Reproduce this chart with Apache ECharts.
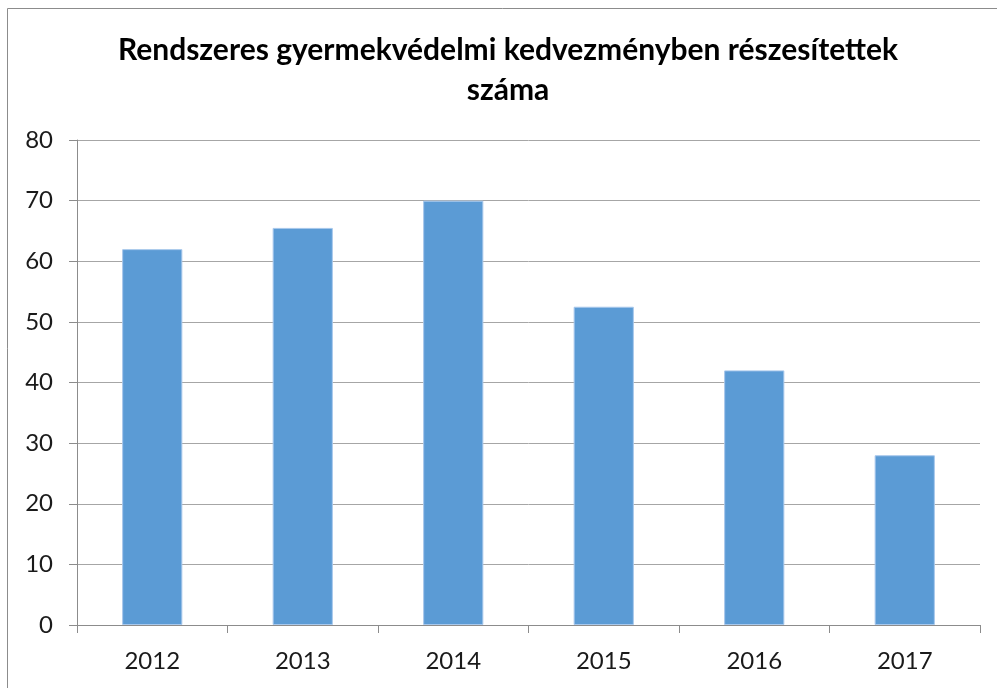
<!DOCTYPE html>
<html>
<head>
<meta charset="utf-8">
<script src="https://cdn.jsdelivr.net/npm/echarts@6/dist/echarts.min.js"></script>
<style>
  html, body { margin: 0; padding: 0; background: #fff; }
  #chart { width: 997px; height: 688px; }
</style>
</head>
<body>
<div id="chart"></div>
<script>
// Adatok
const years = ['2012', '2013', '2014', '2015', '2016', '2017']
const recipients = [62, 65.5, 70, 52.5, 42, 28]
const yMin = 0
const yMax = 80
const yStep = 10

const chart = echarts.init(document.getElementById('chart'))
const option = {
    animation: false,
    title: {
        text: 'Rendszeres gyermekvédelmi kedvezményben részesítettek\nszáma',
        left: 503,
        top: 25,
        textAlign: 'center',
        textStyle: {
            fontFamily: 'Lato',
            fontWeight: 'bold',
            fontSize: 30,
            lineHeight: 40,
            color: '#000'
        }
    },
    // keret a diagram körül
    graphic: [{
        type: 'rect',
        shape: { x: 7.5, y: 8.5, width: 1100, height: 800 },
        style: { fill: 'none', stroke: '#8c8c8c', lineWidth: 1 },
        silent: true
    }],
    grid: {
        left: 77,
        right: 17,
        top: 140,
        bottom: 63
    },
    xAxis: {
        type: 'category',
        data: years,
        axisLine: { lineStyle: { color: '#8c8c8c', width: 1 } },
        axisTick: { show: true, length: 8, lineStyle: { color: '#8c8c8c' } },
        axisLabel: {
            margin: 24,
            fontFamily: 'Lato',
            fontSize: 24,
            color: '#1a1a1a'
        }
    },
    yAxis: {
        type: 'value',
        min: yMin,
        max: yMax,
        interval: yStep,
        axisLine: { show: true, lineStyle: { color: '#8c8c8c', width: 1 } },
        axisTick: { show: true, length: 8, inside: false, lineStyle: { color: '#8c8c8c' } },
        axisLabel: {
            margin: 24,
            fontFamily: 'Lato',
            fontSize: 24,
            color: '#1a1a1a'
        },
        splitLine: { show: true, lineStyle: { color: '#a6a6a6', width: 1 } }
    },
    series: [{
        type: 'bar',
        data: recipients,
        barWidth: '40%',
        itemStyle: {
            color: '#5b9bd5',
            borderColor: '#a8c8ec',
            borderWidth: 1
        }
    }]
}
chart.setOption(option)
</script>
</body>
</html>
